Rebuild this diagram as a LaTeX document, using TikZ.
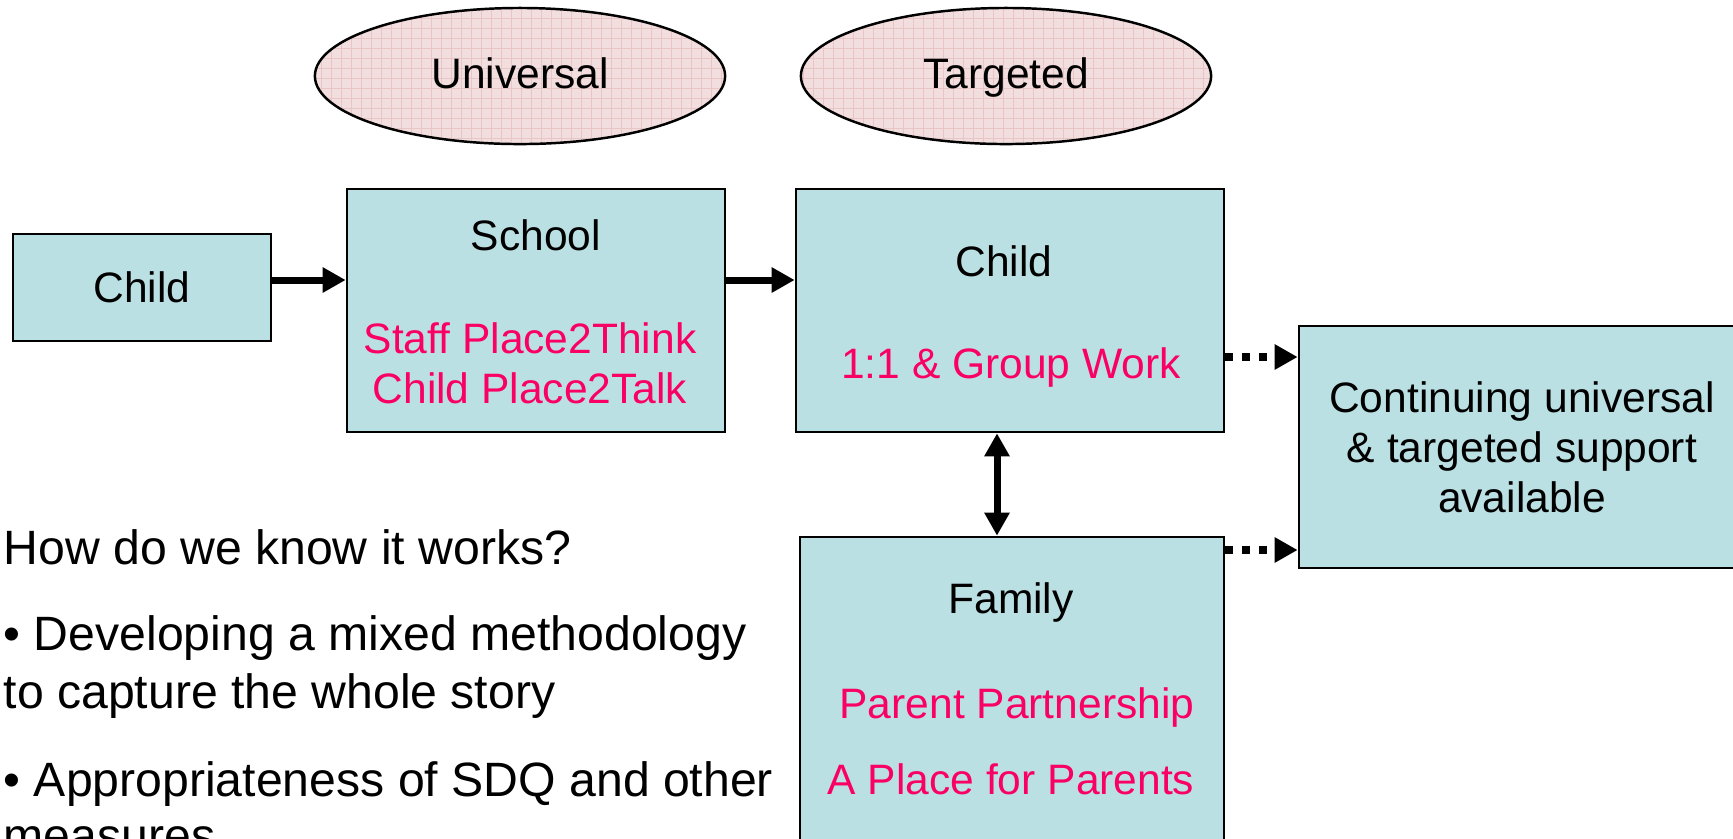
\documentclass[tikz,border=0pt]{standalone}
\usepackage{fontspec}
\setmainfont{Liberation Sans}
\usepackage{xcolor}
\usetikzlibrary{arrows.meta,shapes.geometric}
\definecolor{boxcyan}{RGB}{187,224,227}
\definecolor{tierpink}{RGB}{242,222,222}
\definecolor{tiergrid}{RGB}{232,198,198}
\definecolor{actionpink}{RGB}{250,0,100}
\newcommand{\diagfont}{\fontsize{12.1}{14.2}\selectfont}
\newcommand{\askfont}{\fontsize{13.7}{16}\selectfont}

\begin{document}
\begin{tikzpicture}[x=0.01cm, y=-0.01cm, font=\diagfont,
    >={Triangle[length=0.23cm,width=0.24cm]},
    blockbox/.style={draw, rectangle, fill=boxcyan, line width=0.7pt, inner sep=0pt},
    tier/.style={draw, ellipse, fill=tierpink, line width=0.7pt, inner sep=0pt,
      text height=0.73em, text depth=0pt,
      minimum width=4.1cm, minimum height=1.36cm,
      path picture={\draw[tiergrid, line width=0.3pt, step=0.1cm]
        (path picture bounding box.south west) grid (path picture bounding box.north east);}},
    boxtitle/.style={anchor=base, inner sep=0pt},
    boxaction/.style={boxtitle, text=actionpink},
    asktext/.style={anchor=base west, inner sep=0pt, font=\askfont},
    solidflow/.style={->, line width=0.07cm},
    dotflow/.style={->, line width=0.08cm, dash pattern=on 0.08cm off 0.09cm}]
  \useasboundingbox (0,0) rectangle (1733,838);

  % Define blocks
  \node [tier] (universal) at (520,76) {Universal};
  \node [tier] (targeted) at (1006,76) {Targeted};
  \node [blockbox, minimum width=2.58cm, minimum height=1.07cm, text depth=0pt] (child) at (142,287.5) {Child};
  \node [blockbox, minimum width=3.78cm, minimum height=2.43cm] (school) at (536,310.5) {};
  \node [blockbox, minimum width=4.28cm, minimum height=2.43cm] (childT) at (1010,310.5) {};
  \node [blockbox, minimum width=4.24cm, minimum height=3.62cm] (family) at (1012,718) {};
  \node [blockbox, minimum width=4.46cm, minimum height=2.42cm, align=center] (support) at (1522,447)
    {Continuing universal\\\& targeted support\\available};

  % Texts inside the blocks
  \node [boxtitle] (schooltitle) at (536,250) {School};
  \node [boxaction] (staffthink) at (530,353) {Staff Place2Think};
  \node [boxaction] (childtalk) at (530,403) {Child Place2Talk};
  \node [boxtitle] (childtitle) at (1004,276) {Child};
  \node [boxaction] (groupwork) at (1011,378) {1:1 \& Group Work};
  \node [boxtitle] (familytitle) at (1011,613) {Family};
  \node [boxaction] (partnership) at (1017,718) {Parent Partnership};
  \node [boxaction] (placeparents) at (1011,794) {A Place for Parents};

  % Question and points
  \node [asktext] (ask) at (3,564) {How do we know it works?};
  \node [asktext] (pointa) at (3,650) {• Developing a mixed methodology};
  \node [asktext] (pointb) at (3,708) {to capture the whole story};
  \node [asktext] (pointc) at (3,796) {• Appropriateness of SDQ and other};
  \node [asktext] (pointd) at (3,852) {measures};

  % Connect blocks
  \draw [solidflow] (child.east |- 0,280) -- (school.west |- 0,280);
  \draw [solidflow] (school.east |- 0,280) -- (childT.west |- 0,280);
  \draw [solidflow, <->] (childT.south -| 997,0) -- (family.north -| 997,0);
  \draw [dotflow] (childT.east |- 0,357) -- (support.west |- 0,357);
  \draw [dotflow] (family.east |- 0,550) -- (support.west |- 0,550);
\end{tikzpicture}
\end{document}
